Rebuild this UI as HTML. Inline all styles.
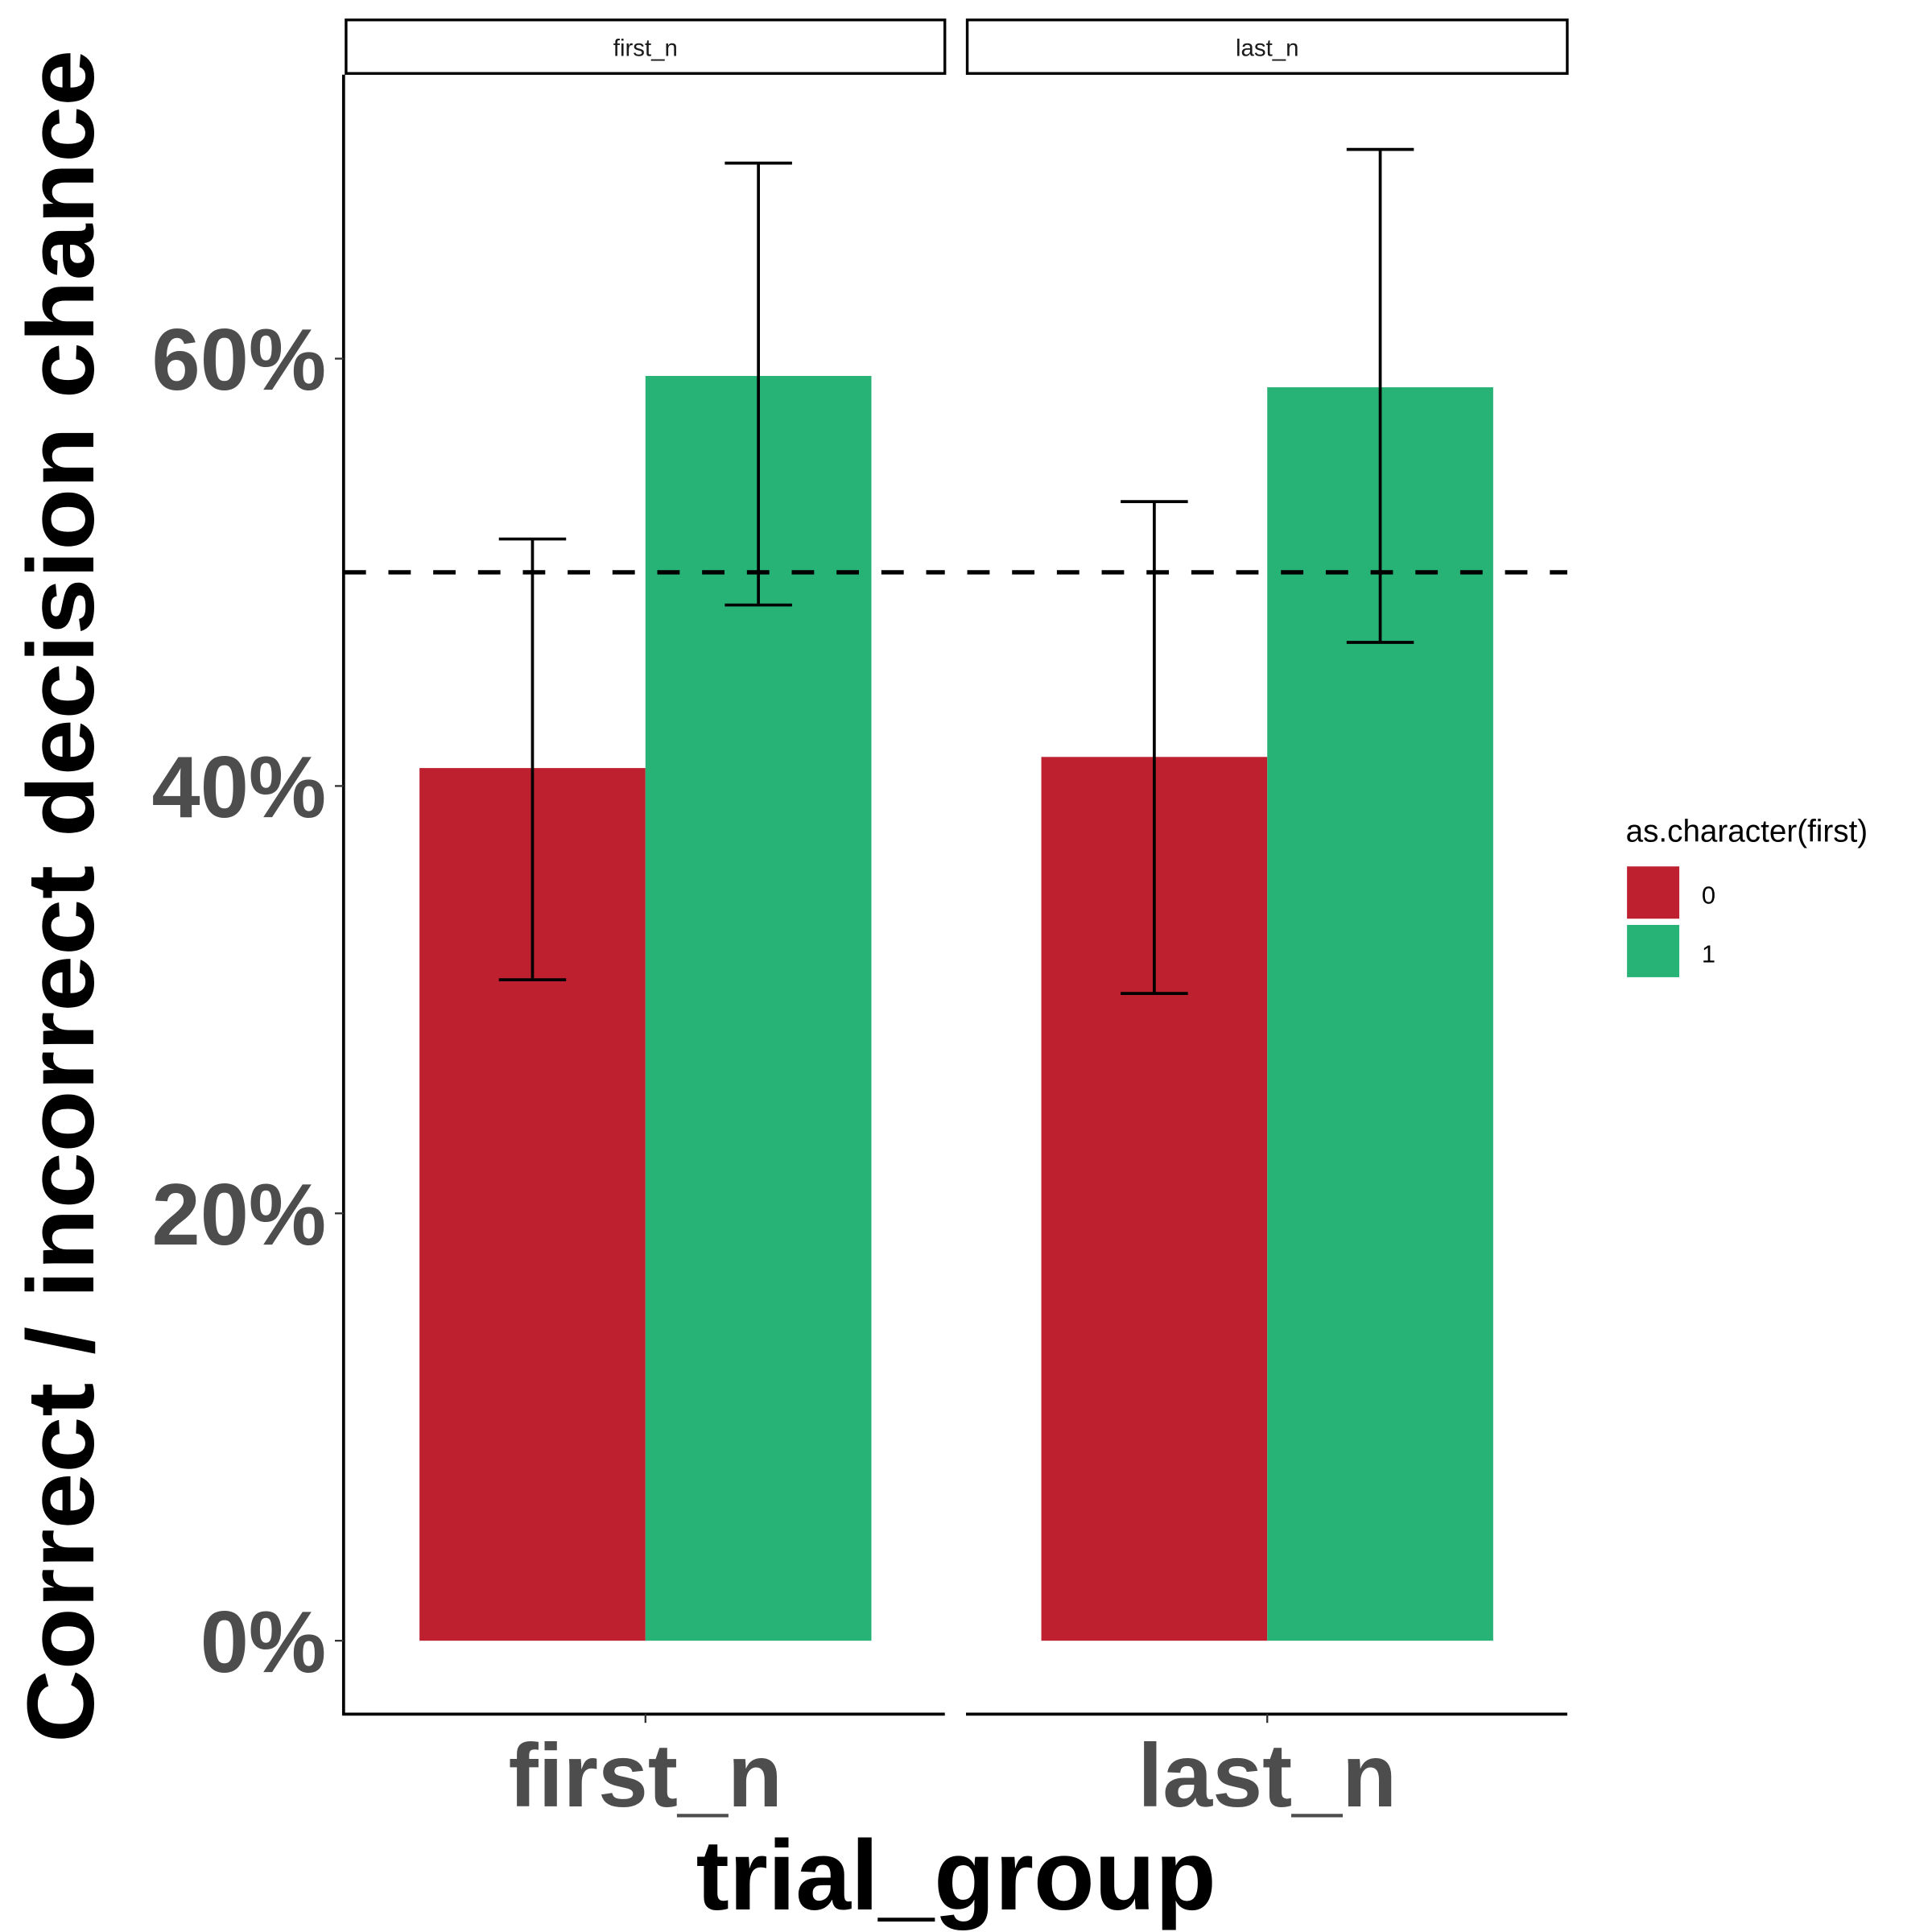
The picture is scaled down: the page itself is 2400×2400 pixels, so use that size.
<!DOCTYPE html>
<html><head><meta charset="utf-8"><style>html,body{margin:0;padding:0;background:#fff}svg{display:block}text{font-family:"Liberation Sans",Arial,sans-serif}</style></head>
<body>
<svg id="chart" width="2400" height="2400" viewBox="0 0 1552 1552" xmlns="http://www.w3.org/2000/svg">
<g id="plot"></g>
</svg>
<script>
const panels = ["first_n", "last_n"];
const groups = ["0", "1"];
const means0 = [40.84, 41.36];
const means1 = [59.19, 58.66];
const lo0 = [30.93, 30.29];
const hi0 = [51.56, 53.31];
const lo1 = [48.47, 46.72];
const hi1 = [69.15, 69.79];
const yTicks = [0, 20, 40, 60];
const yTickLabels = ["0%", "20%", "40%", "60%"];
const chanceLevel = 50;

const NS = "http://www.w3.org/2000/svg";
const root = document.getElementById("plot");
function mk(tag, attrs, parent) {
  const e = document.createElementNS(NS, tag);
  for (const k in attrs) e.setAttribute(k, attrs[k]);
  (parent || root).appendChild(e);
  return e;
}
const colors = ["#be202f", "#28b376"];
const panelX = [[278, 759], [777, 1259]];
function y(v) { return 1318 - v * 17.165; }
function barX(p, g) { const c = (panelX[p][0] + panelX[p][1]) / 2; return g === 0 ? c - 181.5 : c; }
const barW = 181.5;

// strips
panels.forEach((name, p) => {
  const r = mk("rect", {x: panelX[p][0], y: 16, width: panelX[p][1] - panelX[p][0], height: 43, fill: "#fff", stroke: "#000", "stroke-width": 2.2});
  
  
  const t = mk("text", {x: (panelX[p][0] + panelX[p][1]) / 2, y: 45, "text-anchor": "middle", "font-size": 19, fill: "#1a1a1a"});
  t.textContent = name;
  
  
});

// bars
const means = [means0, means1], los = [lo0, lo1], his = [hi0, hi1];
panels.forEach((name, p) => {
  groups.forEach((gname, g) => {
    const v = means[g][p];
    const b = mk("rect", {x: barX(p, g), y: y(v), width: barW, height: y(0) - y(v), fill: colors[g]});
    
    
  });
});

// chance line
panels.forEach((name, p) => {
  const l = mk("line", {x1: p === 0 ? 276 : panelX[p][0], x2: panelX[p][1], y1: y(chanceLevel), y2: y(chanceLevel), stroke: "#000", "stroke-width": 3.5, "stroke-dasharray": "18 18"});
  
  
});

// error bars
panels.forEach((name, p) => {
  groups.forEach((gname, g) => {
    const cx = barX(p, g) + barW / 2;
    const eg = mk("g", {stroke: "#000", "stroke-width": 2.4});
    
    
    mk("line", {x1: cx, x2: cx, y1: y(his[g][p]), y2: y(los[g][p])}, eg);
    mk("line", {x1: cx - 27, x2: cx + 27, y1: y(his[g][p]), y2: y(his[g][p])}, eg);
    mk("line", {x1: cx - 27, x2: cx + 27, y1: y(los[g][p]), y2: y(los[g][p])}, eg);
  });
});

// axes
const ya = mk("line", {x1: 276, x2: 276, y1: 60, y2: 1378, stroke: "#000", "stroke-width": 2.4});


panels.forEach((name, p) => {
  const xa = mk("line", {x1: p === 0 ? 275 : panelX[p][0] - 1, x2: panelX[p][1], y1: 1377, y2: 1377, stroke: "#000", "stroke-width": 2.4});
  
  
  const cx = (panelX[p][0] + panelX[p][1]) / 2;
  const tk = mk("line", {x1: cx, x2: cx, y1: 1377, y2: 1384, stroke: "#333", "stroke-width": 1.5});
  
  
  const tl = mk("text", {x: cx, y: 1451, "text-anchor": "middle", "font-size": 72, "font-weight": "bold", fill: "#4d4d4d"});
  tl.textContent = name;
  
  
});
yTicks.forEach((v, i) => {
  const tk = mk("line", {x1: 269, x2: 276, y1: y(v), y2: y(v), stroke: "#333", "stroke-width": 1.5});
  
  
  const tl = mk("text", {x: 262, y: y(v) + 25, "text-anchor": "end", "font-size": 70, "font-weight": "bold", fill: "#4d4d4d"});
  tl.textContent = yTickLabels[i];
  
  
});

// titles
const yt = mk("text", {x: 0, y: 0, transform: "translate(75,720) rotate(-90)", "text-anchor": "middle", "font-size": 76, "font-weight": "bold", fill: "#000", textLength: 1360, lengthAdjust: "spacingAndGlyphs"});
yt.textContent = "Correct / incorrect decision chance";


const xt = mk("text", {x: 768, y: 1534, "text-anchor": "middle", "font-size": 80, "font-weight": "bold", fill: "#000"});
xt.textContent = "trial_group";



// legend
const lg = mk("g", {});


const lt = mk("text", {x: 1306, y: 676, "font-size": 25, fill: "#000"}, lg);
lt.textContent = "as.character(first)";


groups.forEach((gname, g) => {
  const r = mk("rect", {x: 1307, y: 696 + g * 47, width: 42, height: 42, fill: colors[g]}, lg);
  
  
  const t = mk("text", {x: 1367, y: 726 + g * 47, "font-size": 20, fill: "#000"}, lg);
  t.textContent = gname;
  
  
});
</script>
</body></html>
